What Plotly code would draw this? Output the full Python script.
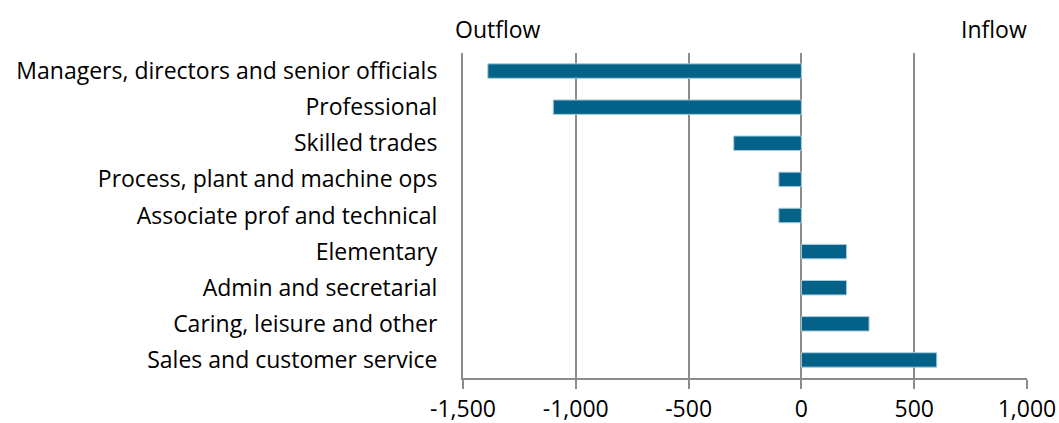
import plotly.graph_objects as go

categories = [
    "Managers, directors and senior officials",
    "Professional",
    "Skilled trades",
    "Process, plant and machine ops",
    "Associate prof and technical",
    "Elementary",
    "Admin and secretarial",
    "Caring, leisure and other",
    "Sales and customer service",
]
net_flow = [-1390, -1100, -300, -100, -100, 200, 200, 300, 600]

tick_values = [-1500, -1000, -500, 0, 500, 1000]
tick_labels = ["-1,500", "-1,000", "-500", "0", "500", "1,000"]

FONT = "Open Sans"
GRID = "#8c8c8c"
SIZE = 23

fig = go.Figure(
    go.Bar(
        x=net_flow,
        y=categories,
        orientation="h",
        width=0.4,
        marker=dict(color="#046289", line=dict(color="#a9cbdb", width=1)),
    )
)

fig.update_layout(
    width=1059,
    height=423,
    margin=dict(l=463, r=32, t=53, b=45, autoexpand=False),
    paper_bgcolor="white",
    plot_bgcolor="white",
    showlegend=False,
    font=dict(family=FONT, size=SIZE, color="#000000"),
    annotations=[
        dict(text="Outflow", x=0, y=1, xref="paper", yref="paper",
             xanchor="left", yanchor="bottom", yshift=6, xshift=-10,
             showarrow=False, font=dict(family=FONT, size=SIZE)),
        dict(text="Inflow", x=1, y=1, xref="paper", yref="paper",
             xanchor="right", yanchor="bottom", yshift=6, xshift=2,
             showarrow=False, font=dict(family=FONT, size=SIZE)),
    ],
)

fig.update_xaxes(
    range=[-1500, 1000],
    tickvals=tick_values,
    ticktext=tick_labels,
    showgrid=True,
    gridcolor=GRID,
    gridwidth=2,
    zeroline=True,
    zerolinecolor=GRID,
    zerolinewidth=2,
    showline=True,
    linecolor=GRID,
    linewidth=2,
    ticks="outside",
    ticklen=9,
    tickwidth=2,
    tickcolor=GRID,
    tickfont=dict(family=FONT, size=SIZE),
    automargin=False,
    fixedrange=True,
)

fig.update_yaxes(
    autorange="reversed",
    showgrid=False,
    showline=True,
    linecolor=GRID,
    linewidth=2,
    ticks="",
    ticklabelstandoff=19,
    tickfont=dict(family=FONT, size=SIZE),
    automargin=False,
    fixedrange=True,
)

fig.write_html("out.html")
